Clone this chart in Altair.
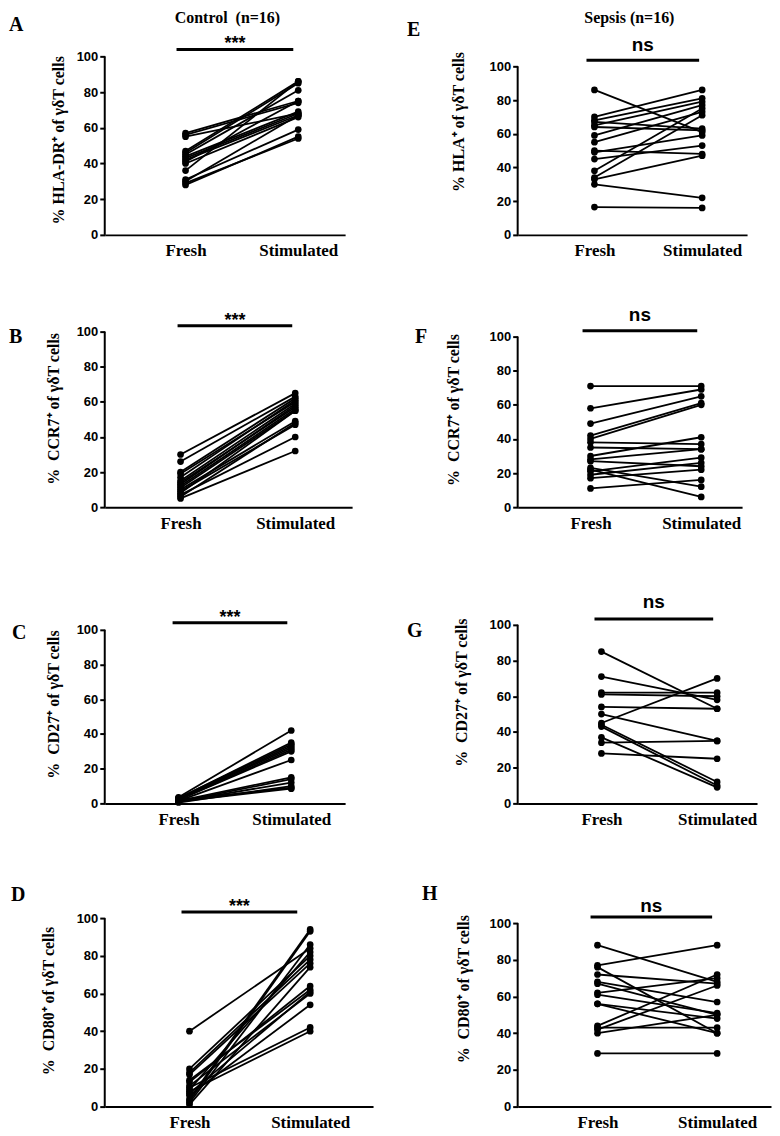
import altair as alt
import pandas as pd

# ---------------- data ----------------
conditions = ["Fresh", "Stimulated"]

A_fresh = [57, 56, 55, 47, 46, 45, 44, 43, 42, 41, 40, 36, 31, 30, 29, 28]
A_stim = [75, 74, 68, 86, 85, 81, 69, 68, 67, 75, 66, 86, 59, 67, 54, 55]

B_fresh = [30, 26, 20, 19, 17, 15, 14, 13, 12, 11, 10, 9, 8, 7, 6, 5]
B_stim = [65, 63, 62, 60, 61, 59, 57, 58, 56, 55, 49, 47, 55, 40, 48, 32]

C_fresh = [3.5, 3, 3, 2.5, 2.5, 2, 2, 1.5, 1.5, 1, 1, 0.5, 2, 1]
C_stim = [42, 35, 34, 33, 32, 31, 30, 25, 15, 14, 12, 10, 9, 8.5]

D_fresh = [40, 20, 18, 17, 14, 13, 11, 10, 9, 8, 7, 6, 4, 3, 2, 1]
D_stim = [84, 80, 78, 76, 62, 64, 60, 42, 82, 40, 61, 54, 94, 93, 86, 74]

E_fresh = [86, 70, 68, 67, 65, 64, 59, 55, 50, 49, 45, 38, 34, 33, 30, 16.5]
E_stim = [61, 86, 81, 63, 79, 62, 77, 73, 48, 59, 53, 75, 71, 47, 22, 16]

F_fresh = [71, 58, 49, 42, 40, 38, 35, 30, 28, 27, 23, 22, 21, 19, 17, 11]
F_stim = [71, 69, 65, 61, 60, 37, 34, 41, 34, 24, 12, 6, 29, 26, 22, 16]

G_fresh = [85, 71, 62, 61, 54, 50, 45, 44, 43, 37, 34, 28]
G_stim = [53, 58, 62, 60, 53, 35, 70, 12, 10, 9, 35, 25]

H_fresh = [88, 77, 76, 72, 68, 67, 62, 61, 56, 56, 44, 43, 42, 40, 29]
H_stim = [68, 88, 40, 67, 57, 50, 70, 51, 48, 40, 72, 43, 66, 50, 29]

y_ticks = [0, 20, 40, 60, 80, 100]

SERIF = "Liberation Serif"
SANS = "Liberation Sans"
NB = "\u00a0"


def panel(letter, fresh, stim, ytitle, sig, width, height, xdom, ytop,
          letter_x, letter_y, ytitle_x, ytitle_y, sig_x, sig_y, sig_text_y,
          header=None, header_x=0, header_y=0):
    rows = []
    for i, (f, s) in enumerate(zip(fresh, stim)):
        rows.append({"subject": i, "cond": 0, "value": f})
        rows.append({"subject": i, "cond": 1, "value": s})
    df = pd.DataFrame(rows)
    one = pd.DataFrame({"k": [0]})

    x = alt.X(
        "cond:Q",
        scale=alt.Scale(domain=xdom, nice=False, zero=False),
        axis=alt.Axis(
            values=[0, 1],
            labelExpr="datum.value == 0 ? '%s' : '%s'" % (conditions[0], conditions[1]),
            ticks=False, grid=False, title=None,
            domainWidth=2, domainColor="black",
            labelFont=SERIF, labelFontWeight="bold", labelFontSize=17,
            labelColor="black", labelPadding=8, labelFlush=False, labelOverlap=False,
        ),
    )
    y = alt.Y(
        "value:Q",
        scale=alt.Scale(domain=[0, ytop], nice=False, zero=True),
        axis=alt.Axis(
            values=y_ticks, domain=False, grid=False, title=None,
            tickSize=5, tickWidth=2, tickColor="black",
            labelFont=SANS, labelFontWeight="bold", labelFontSize=13,
            labelColor="black", labelPadding=2, labelFlush=False,
        ),
    )

    base = alt.Chart(df)
    lines = base.mark_line(color="black", strokeWidth=1.8).encode(
        x=x, y=y, detail="subject:N"
    )
    pts = base.mark_circle(color="black", size=45, opacity=1).encode(x=x, y=y)

    yline = alt.Chart(one).mark_rule(color="black", strokeWidth=2).encode(
        x=alt.value(0), y=alt.datum(0), y2=alt.datum(100)
    )
    bar = alt.Chart(one).mark_rule(color="black", strokeWidth=3).encode(
        x=alt.datum(sig_x[0]), x2=alt.datum(sig_x[1]), y=alt.datum(sig_y)
    )
    is_star = sig.startswith("*")
    sig_txt = alt.Chart(one).mark_text(
        text=sig, font=SANS, fontWeight="bold",
        fontSize=18 if is_star else 19, baseline="alphabetic", align="center",
        color="black",
    ).encode(x=alt.datum((sig_x[0] + sig_x[1]) / 2), y=alt.datum(sig_text_y))

    letter_txt = alt.Chart(one).mark_text(
        text=letter, font=SERIF, fontWeight="bold", fontSize=20,
        align="left", baseline="alphabetic", color="black",
    ).encode(x=alt.value(letter_x), y=alt.value(letter_y))

    ytitle_txt = alt.Chart(one).mark_text(
        text=ytitle, font=SERIF, fontWeight="bold", fontSize=16,
        angle=270, align="center", baseline="middle", color="black",
    ).encode(x=alt.value(ytitle_x), y=alt.datum(ytitle_y))

    layers = [lines, pts, yline, bar, sig_txt, letter_txt, ytitle_txt]
    if header:
        layers.append(
            alt.Chart(one).mark_text(
                text=header, font=SERIF, fontWeight="bold", fontSize=16,
                align="center", baseline="top", color="black",
            ).encode(x=alt.value(header_x), y=alt.value(header_y))
        )
    return alt.layer(*layers).properties(width=width, height=height)


pA = panel("A", A_fresh, A_stim, "% HLA-DR⁺ of γδT cells", "***", 241, 206,
           [-0.717, 1.416], 115.1, -96, 2, -46, 53, [-0.08, 0.956], 103.9, 103.9,
           header="Control" + NB + NB + "(n=16)", header_x=123, header_y=-19)
pE = panel("E", E_fresh, E_stim, "% HLA⁺ of γδT cells", "ns", 230, 206,
           [-0.713, 1.417], 121.9, -111, 7, -59, 67, [-0.074, 0.972], 103.6, 109,
           header="Sepsis (n=16)", header_x=112, header_y=-19)
pB = panel("B", B_fresh, B_stim, "%" + NB + NB + "CCR7⁺ of γδT cells", "***", 248, 212,
           [-0.661, 1.496], 120.5, -96, 47, -51, 56, [-0.026, 0.974], 103.4, 103.4)
pF = panel("F", F_fresh, F_stim, "%" + NB + NB + "CCR7⁺ of γδT cells", "ns", 225, 212,
           [-0.658, 1.369], 124.0, -103, 47, -64, 57, [-0.072, 0.964], 103.5, 108.9)
pC = panel("C", C_fresh, C_stim, "%" + NB + NB + "CD27⁺ of γδT cells", "***", 241, 236,
           [-0.655, 1.478], 135.6, -93, 71, -51, 57, [-0.053, 0.965], 104.0, 104.0)
pG = panel("G", G_fresh, G_stim, "%" + NB + NB + "CD27⁺ of γδT cells", "ns", 240, 236,
           [-0.724, 1.345], 131.8, -111, 69, -56, 62, [-0.06, 0.966], 103.3, 109.3)
pD = panel("D", D_fresh, D_stim, "%" + NB + NB + "CD80⁺ of γδT cells", "***", 269, 243,
           [-0.702, 1.521], 128.6, -94, 37, -56, 56, [-0.066, 0.893], 103.2, 103.2)
pH = panel("H", H_fresh, H_stim, "%" + NB + NB + "CD80⁺ of γδT cells", "ns", 254, 243,
           [-0.667, 1.45], 132.1, -96, 36, -54, 64, [-0.058, 0.958], 103.3, 106.1)

chart = alt.concat(
    pA, pE, pB, pF, pC, pG, pD, pH,
    columns=2,
    spacing={"row": 61, "column": 145},
    bounds="flush",
).properties(
    padding={"left": 0, "top": 0, "right": 0, "bottom": 0},
    background="white",
).configure_view(stroke="transparent")

chart.save("out.html", embed_options={"renderer": "svg", "actions": False})
